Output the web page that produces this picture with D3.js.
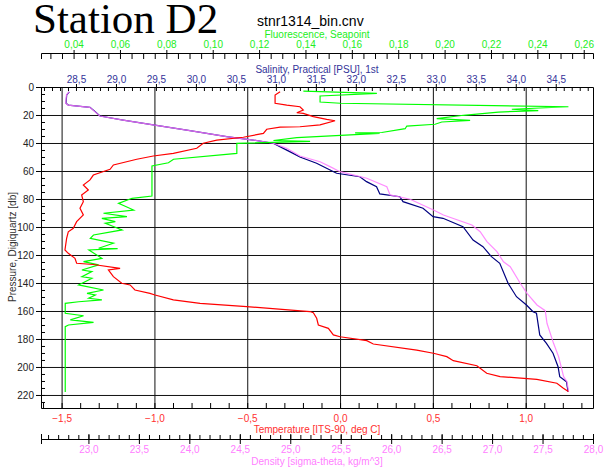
<!DOCTYPE html>
<html>
<head>
<meta charset="utf-8">
<script src="https://cdn.jsdelivr.net/npm/d3@7"></script>
<style>
body { margin: 0; background: #fff; }
svg { display: block; font-family: Arial, "Liberation Sans", sans-serif; }
.ax text { font-size: 10px; }
.ax path, .ax line { stroke: #000; }
.grid line { stroke: #111; }
</style>
</head>
<body>
<svg id="chart" width="606" height="475"></svg>
<script>
// profiles: [pressure db, value]
var temperature = [[3.4,-0.323],[5.7,-0.350],[11.6,-0.350],[12.9,-0.287],[14.1,-0.216],[16.4,-0.198],[18.4,-0.233],[18.8,-0.198],
	[21.2,-0.144],[23.1,-0.072],[24.1,-0.027],[27.1,-0.108],[28.4,-0.216],[28.6,-0.323],[30.2,-0.395],[33.1,-0.413],[35.9,-0.521],
	[37.9,-0.664],[40.2,-0.737],[43.8,-0.772],[47.4,-0.898],[49.3,-1.006],[51.6,-1.095],[55.7,-1.221],[58.8,-1.239],[62.9,-1.329],
	[66.4,-1.347],[70.0,-1.383],[73.6,-1.356],[77.1,-1.392],[81.9,-1.383],[86.6,-1.401],[91.4,-1.383],[96.2,-1.419],[100.9,-1.437],
	[103.4,-1.464],[108.1,-1.473],[116.4,-1.482],[118.8,-1.464],[122.4,-1.428],[125.9,-1.419],[126.8,-1.329],[129.5,-1.185],
	[130.7,-1.248],[135.5,-1.221],[140.2,-1.176],[141.4,-1.131],[145.0,-1.105],[147.4,-1.024],[148.6,-0.997],[152.1,-0.898],
	[154.5,-0.754],[156.9,-0.503],[160.4,-0.162],[161.2,-0.144],[165.2,-0.126],[170.0,-0.117],[172.4,-0.063],[177.1,-0.036],
	[178.4,0.000],[181.2,0.144],[183.6,0.179],[187.9,0.413],[190.2,0.503],[192.6,0.575],[195.5,0.610],[199.1,0.737],[204.5,0.790],
	[206.9,0.862],[208.8,1.060],[211.6,1.168],[215.2,1.203],[217.6,1.230]];

var salinity = [[3.4,28.416],[5.7,28.384],[11.6,28.375],[12.9,28.404],[14.5,28.675],[17.6,28.74],[20.7,28.80],[23.6,29.09],
	[27.1,29.466],[31.2,29.925],[35.5,30.384],[37.9,30.716],[40.2,30.966],[42.6,31.05],[47.4,31.216],[50.0,31.30],[54.5,31.509],
	[58.1,31.634],[61.6,31.759],[64.1,32.05],[67.6,32.134],[71.2,32.259],[76.4,32.30],[78.4,32.55],[81.9,32.59],[86.6,32.84],
	[92.6,32.966],[93.8,33.09],[99.8,33.34],[109.3,33.466],[114.1,33.59],[121.2,33.696],[125.9,33.80],[140.2,33.904],
	[149.8,34.009],[155.7,34.134],[160.5,34.216],[161.6,34.259],[177.1,34.30],[183.1,34.384],[190.2,34.466],[199.8,34.529],
	[206.9,34.55],[210.5,34.634],[217.6,34.654]];

var density = [[3.4,22.808],[5.7,22.782],[11.6,22.775],[12.9,22.798],[14.5,23.013],[17.6,23.063],[20.7,23.112],[23.6,23.343],
	[27.1,23.641],[31.2,24.005],[35.5,24.369],[37.9,24.633],[40.2,24.832],[43.8,24.965],[49.3,25.096],[53.4,25.295],[56.9,25.394],
	[60.5,25.493],[65.2,25.758],[71.2,25.957],[77.1,25.989],[80.2,26.188],[87.9,26.419],[91.4,26.518],[98.6,26.800],[103.4,26.882],
	[110.5,26.949],[117.6,27.048],[124.8,27.113],[128.4,27.180],[140.2,27.279],[147.4,27.346],[155.7,27.445],[159.8,27.527],
	[168.8,27.544],[183.1,27.609],[192.6,27.659],[206.9,27.709],[210.5,27.742],[217.6,27.758]];

var fluorescence = [[2.9,0.1391],[4.5,0.1708],[6.4,0.1463],[10.7,0.1463],[11.6,0.1550],[14.1,0.2534],[15.9,0.2290],[16.9,0.2404],
	[17.9,0.2232],[20.2,0.2081],[22.6,0.1966],[23.8,0.2110],[25.0,0.1988],[26.6,0.1959],[27.9,0.1837],[29.8,0.1830],[32.5,0.1729],
	[32.7,0.1614],[33.1,0.1720],[36.2,0.1363],[38.2,0.1262],[38.9,0.1420],[40.2,0.1104],[47.4,0.1104],[51.6,0.0831],[54.1,0.0809],
	[56.4,0.0738],[77.9,0.0738],[79.5,0.0652],[83.1,0.0594],[87.9,0.0659],[90.2,0.0529],[92.6,0.0630],[93.8,0.0522],[96.2,0.0580],
	[97.4,0.0537],[102.1,0.0609],[105.7,0.0486],[108.1,0.0472],[111.6,0.0572],[115.2,0.0508],[115.4,0.0590],[116.4,0.0466],
	[122.4,0.0522],[124.8,0.0443],[127.1,0.0508],[130.7,0.0436],[131.9,0.0479],[135.5,0.0436],[136.6,0.0479],[141.4,0.0422],
	[145.0,0.0529],[147.4,0.0458],[148.6,0.0494],[150.9,0.0465],[152.1,0.0522],[153.4,0.0422],[154.5,0.0364],[161.6,0.0364],
	[163.4,0.0443],[166.4,0.0386],[168.1,0.0486],[170.0,0.0378],[171.2,0.0364],[217.9,0.0364]];

// major tick values (labelled)
var presTicks = [0,20,40,60,80,100,120,140,160,180,200,220];
var tempTicks = [-1.5,-1.0,-0.5,0.0,0.5,1.0];
var densTicks = [23.0,23.5,24.0,24.5,25.0,25.5,26.0,26.5,27.0,27.5,28.0];
var salTicks = [28.5,29.0,29.5,30.0,30.5,31.0,31.5,32.0,32.5,33.0,33.5,34.0,34.5];
var fluoTicks = [0.04,0.06,0.08,0.10,0.12,0.14,0.16,0.18,0.20,0.22,0.24,0.26];

var L = 41, R = 593, T = 87, B = 408;

var loc = d3.formatLocale({decimal: ",", thousands: ".", grouping: [3], currency: ["", ""]});
var f1 = loc.format(".1f"), f2 = loc.format(".2f");

var py = d3.scaleLinear().domain([0, 229.3]).range([T, B]);
var tx = d3.scaleLinear().domain([-1.611, 1.3626]).range([L, R]);
var sx = d3.scaleLinear().domain([28.0625, 34.966]).range([L, R]);
var dx = d3.scaleLinear().domain([22.53, 28.0]).range([L, R]);
var fx = d3.scaleLinear().domain([0.02595, 0.264]).range([L, R]);

var presMinor = d3.range(0, 230, 5);
var tempMinor = d3.range(-16, 14).map(function(i){ return i / 10; });
var densMinor = d3.range(226, 281).map(function(i){ return i / 10; });
var salMinor = d3.range(281, 350).map(function(i){ return i / 10; });
var fluoMinor = d3.range(6, 53).map(function(i){ return i * 0.005; });

var svg = d3.select("#chart");
svg.append("rect").attr("width", 606).attr("height", 475).attr("fill", "#fff");

function ax(x, y, axis, cls){
	var g = svg.append("g").attr("class", cls || "ax")
		.attr("transform", "translate(" + x + "," + y + ")")
		.call(axis);
	return g;
}
function nodomain(g){ g.select(".domain").remove(); return g; }
function colorText(g, c){ g.selectAll("text").attr("fill", c); return g; }

// grid
nodomain(ax(0, B, d3.axisTop(tx).tickValues(tempTicks).tickSize(B - T).tickFormat(""), "grid"));
nodomain(ax(L, 0, d3.axisRight(py).tickValues(presTicks.slice(1)).tickSize(R - L).tickFormat(""), "grid"));

// pressure axis (left) and right border
ax(L, 0, d3.axisRight(py).tickValues(presMinor).tickSize(4).tickSizeOuter(0).tickFormat(""));
colorText(nodomain(ax(L, 0, d3.axisLeft(py).tickValues(presTicks).tickSize(5).tickPadding(2).tickFormat(d3.format("d")))), "#222");
ax(R, 0, d3.axisLeft(py).tickValues([]).tickSizeOuter(0));

// temperature axis (bottom)
ax(0, B, d3.axisTop(tx).tickValues(tempMinor).tickSize(5).tickSizeOuter(0).tickFormat(""));
colorText(nodomain(ax(0, B, d3.axisBottom(tx).tickValues(tempTicks).tickSize(0).tickPadding(7).tickFormat(f1))), "#ff3030");

// density axis (below temperature)
ax(0, 439, d3.axisTop(dx).tickValues(densMinor).tickSize(4).tickSizeOuter(5).tickFormat(""));
nodomain(ax(0, 439, d3.axisTop(dx).tickValues(densTicks).tickSize(5).tickFormat("")));
colorText(ax(0, 439, d3.axisBottom(dx).tickValues(densTicks).tickSize(5).tickSizeOuter(5).tickPadding(2).tickFormat(f1)), "#ff80ff");

// salinity axis (top of plot)
ax(0, T, d3.axisBottom(sx).tickValues(salMinor).tickSize(4).tickSizeOuter(0).tickFormat(""));
colorText(nodomain(ax(0, T, d3.axisTop(sx).tickValues(salTicks).tickSize(3).tickPadding(1).tickFormat(f1))), "#333399");

// fluorescence axis (top)
ax(0, 53, d3.axisBottom(fx).tickValues(fluoMinor).tickSize(6).tickSizeOuter(6).tickFormat(""));
colorText(nodomain(ax(0, 53, d3.axisTop(fx).tickValues(fluoTicks).tickSize(3).tickPadding(2).tickFormat(f2))), "#22ee22");

// profiles
function profile(data, xs, color, op){
	var line = d3.line()
		.x(function(d){ return xs(d[1]); })
		.y(function(d){ return py(d[0]); });
	svg.append("path").datum(data)
		.attr("d", line)
		.attr("fill", "none")
		.attr("stroke", color)
		.attr("stroke-width", 1.2)
		.attr("stroke-opacity", op || 1);
}
profile(salinity, sx, "#000080");
profile(density, dx, "#ff78ff", 0.85);
profile(fluorescence, fx, "#00ff00");
profile(temperature, tx, "#ff0000");

// titles
svg.append("text").attr("x", 33).attr("y", 33)
	.style("font-family", "'Times New Roman', 'Liberation Serif', serif").style("font-size", "43px")
	.text("Station D2");
svg.append("text").attr("x", 257).attr("y", 26).style("font-size", "14px").text("stnr1314_bin.cnv");

function axisTitle(x, y, txt, color){
	svg.append("text").attr("x", x).attr("y", y).attr("text-anchor", "middle")
		.style("font-size", "10px").attr("fill", color).text(txt);
}
axisTitle(317, 38, "Fluorescence, Seapoint", "#22ee22");
axisTitle(317, 72.5, "Salinity, Practical [PSU], 1st", "#333399");
axisTitle(317, 432.5, "Temperature [ITS-90, deg C]", "#ff3030");
axisTitle(317, 465, "Density [sigma-theta, kg/m^3]", "#ff80ff");

svg.append("text").attr("transform", "translate(16,247)rotate(-90)")
	.attr("text-anchor", "middle").style("font-size", "10px").attr("fill", "#333")
	.text("Pressure, Digiquartz [db]");
</script>
</body>
</html>
